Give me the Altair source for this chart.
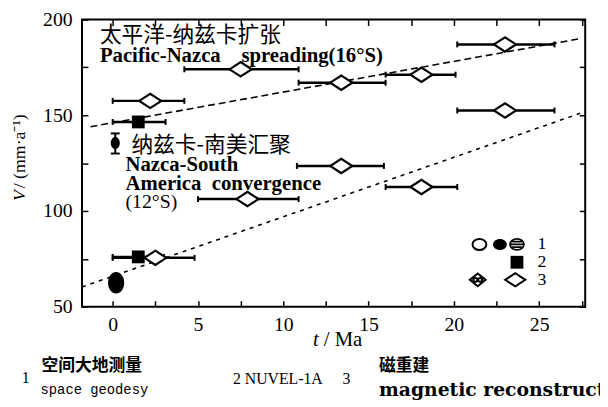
import altair as alt
import pandas as pd

# ---------------- data ----------------
# 3: magnetic reconstruction (open diamonds with horizontal age ranges)
mr_t    = [2.2, 7.5, 13.4, 18.1, 23.0, 23.0, 18.1, 13.4, 7.9, 2.5]
mr_v    = [157.5, 174.0, 167.0, 171.2, 187.0, 152.5, 112.5, 123.5, 106.2, 75.5]
mr_tmin = [0.0, 4.2, 10.9, 16.0, 20.2, 20.2, 16.0, 10.8, 5.0, 0.0]
mr_tmax = [4.2, 10.9, 16.0, 20.1, 25.9, 25.9, 20.2, 15.9, 10.9, 4.8]

# 2: NUVEL-1A (filled squares)
nv_t    = [1.5, 1.5]
nv_v    = [146.5, 76.0]
nv_tmin = [0.0, 0.0]
nv_tmax = [3.1, 3.0]

# 1: space geodesy (filled circles)
sg_t = [0.15, 0.2]
sg_v = [135.5, 62.5]
sg_err_t    = [0.15]
sg_err_vmin = [130.0]
sg_err_vmax = [140.5]

# dashed trend lines
pn_line_t = [-1.3, 27.4]
pn_line_v = [144.0, 190.0]
ns_line_t = [-1.8, 27.4]
ns_line_v = [60.3, 151.0]

# in-plot key
key1_t = [21.5, 22.7, 23.7]
key_v  = [82.5, 73.2, 64.0]
key3_t = [21.4, 23.6]
key_lab_t = [24.9, 24.9, 24.9]
key_labels = ["1", "2", "3"]

x_ticks = [0, 2.5, 5, 7.5, 10, 12.5, 15, 17.5, 20, 22.5, 25, 27.5]
y_ticks = [50, 75, 100, 125, 150, 175, 200]

# ---------------- tables ----------------
mr = pd.DataFrame({"t": mr_t, "v": mr_v, "tmin": mr_tmin, "tmax": mr_tmax})
nv = pd.DataFrame({"t": nv_t, "v": nv_v, "tmin": nv_tmin, "tmax": nv_tmax})
sg = pd.DataFrame({"t": sg_t, "v": sg_v})
sge = pd.DataFrame({"t": sg_err_t, "vmin": sg_err_vmin, "vmax": sg_err_vmax})
pn = pd.DataFrame({"t": pn_line_t, "v": pn_line_v})
ns = pd.DataFrame({"t": ns_line_t, "v": ns_line_v})
k_open = pd.DataFrame({"t": [key1_t[0]], "v": [key_v[0]]})
k_fill = pd.DataFrame({"t": [key1_t[1]], "v": [key_v[0]]})
k_hat = pd.DataFrame({"t": [key1_t[2]], "v": [key_v[0]]})
k_sq = pd.DataFrame({"t": [key1_t[2]], "v": [key_v[1]]})
k_hd = pd.DataFrame({"t": [key3_t[0]], "v": [key_v[2]]})
k_d = pd.DataFrame({"t": [key3_t[1]], "v": [key_v[2]]})
k_lab = pd.DataFrame({"t": key_lab_t, "v": key_v, "label": key_labels})

XS = alt.Scale(domain=[-1.8, 27.7], nice=False, zero=False)
YS = alt.Scale(domain=[50, 200], nice=False, zero=False)

SERIF = "Liberation Serif"
CJK = "Noto Sans CJK SC"

DIAMOND = "M-1,0L0,-0.65L1,0L0,0.65Z"
ELLIPSE = "M-1,0A1,0.8 0 1,0 1,0A1,0.8 0 1,0 -1,0Z"
TALL_ELLIPSE = "M0,-1A0.75,1 0 1,0 0,1A0.75,1 0 1,0 0,-1Z"
HATCH_CIRCLE = ("M-1,0A1,0.8 0 1,0 1,0A1,0.8 0 1,0 -1,0Z "
                "M-0.7,-0.4L0.7,-0.4M-0.9,0L0.9,0M-0.7,0.4L0.7,0.4")
HATCH_DIAMOND = ("M-1,0L0,-0.8L1,0L0,0.8Z "
                 "M-0.55,0A0.25,0.25 0 1,0 -0.05,0A0.25,0.25 0 1,0 -0.55,0Z "
                 "M0.05,0A0.25,0.25 0 1,0 0.55,0A0.25,0.25 0 1,0 0.05,0Z")


def xq(field="t", **kw):
    return alt.X(f"{field}:Q", scale=XS, axis=None, title=None, **kw)


def yq(field="v", **kw):
    return alt.Y(f"{field}:Q", scale=YS, axis=None, title=None, **kw)


tick_style = dict(tickSize=6, tickWidth=1.5, tickColor="black", domain=False,
                  grid=False, offset=-6, labelFont=SERIF, labelFontSize=20,
                  labelColor="black")

# axes carrier (bottom / left)
axes_bl = alt.Chart(mr).mark_point(opacity=0).encode(
    x=alt.X("t:Q", scale=XS, title=None,
            axis=alt.Axis(orient="bottom", values=x_ticks, labelPadding=8,
                          labelExpr="datum.value % 5 == 0 ? datum.label : ''",
                          **tick_style)),
    y=alt.Y("v:Q", scale=YS, title=None,
            axis=alt.Axis(orient="left", values=y_ticks, labelPadding=10,
                          labelExpr="datum.value % 50 == 0 ? datum.label : ''",
                          **tick_style)),
)

# top / right ticks (dashed line layer carries them)
pn_line = alt.Chart(pn).mark_line(color="black", strokeWidth=1.6, strokeDash=[7, 4]).encode(
    x=alt.X("t:Q", scale=XS, title=None,
            axis=alt.Axis(orient="top", values=x_ticks, labels=False, **tick_style)),
    y=alt.Y("v:Q", scale=YS, title=None,
            axis=alt.Axis(orient="right", values=y_ticks, labels=False, **tick_style)),
)
ns_line = alt.Chart(ns).mark_line(color="black", strokeWidth=1.6, strokeDash=[4, 5]).encode(
    x=xq(), y=yq())

# horizontal error bars
mr_bar = alt.Chart(mr).mark_rule(color="black", strokeWidth=2.5).encode(
    x=xq("tmin"), x2="tmax:Q", y=yq())
mr_caps = alt.Chart(mr).transform_fold(["tmin", "tmax"], as_=["end", "tt"]).mark_tick(
    orient="vertical", color="black", size=6, thickness=2, opacity=1).encode(
    x=xq("tt"), y=yq())
nv_bar = alt.Chart(nv).mark_rule(color="black", strokeWidth=2.5).encode(
    x=xq("tmin"), x2="tmax:Q", y=yq())
nv_caps = alt.Chart(nv).transform_fold(["tmin", "tmax"], as_=["end", "tt"]).mark_tick(
    orient="vertical", color="black", size=6, thickness=2, opacity=1).encode(
    x=xq("tt"), y=yq())

# vertical error bar of space geodesy point
sg_bar = alt.Chart(sge).mark_rule(color="black", strokeWidth=2).encode(
    x=xq(), y=yq("vmin"), y2="vmax:Q")
sg_caps = alt.Chart(sge).transform_fold(["vmin", "vmax"], as_=["end", "vv"]).mark_tick(
    orient="horizontal", color="black", size=9, thickness=2, opacity=1).encode(
    x=xq(), y=yq("vv"))

# symbols
mr_pts = alt.Chart(mr).mark_point(shape=DIAMOND, size=500, filled=True, fill="white",
                                  stroke="black", strokeWidth=2.2, opacity=1).encode(x=xq(), y=yq())
nv_pts = alt.Chart(nv).mark_point(shape="square", size=169, filled=True, color="black",
                                  opacity=1).encode(x=xq(), y=yq())
sg_pts = alt.Chart(sg).mark_point(shape=TALL_ELLIPSE, filled=True, color="black", opacity=1).encode(
    x=xq(), y=yq(),
    size=alt.condition("datum.v > 100", alt.value(150), alt.value(480)))

# key symbols
k1 = alt.Chart(k_open).mark_point(shape=ELLIPSE, size=196, filled=True, fill="white",
                                  stroke="black", strokeWidth=2, opacity=1).encode(x=xq(), y=yq())
k2 = alt.Chart(k_fill).mark_point(shape=ELLIPSE, size=196, filled=True, color="black",
                                  opacity=1).encode(x=xq(), y=yq())
k3 = alt.Chart(k_hat).mark_point(shape=HATCH_CIRCLE, size=196, filled=False, color="black",
                                 strokeWidth=1.8, opacity=1).encode(x=xq(), y=yq())
k4 = alt.Chart(k_sq).mark_point(shape="square", size=169, filled=True, color="black",
                                opacity=1).encode(x=xq(), y=yq())
k5 = alt.Chart(k_hd).mark_point(shape=HATCH_DIAMOND, size=256, filled=False, color="black",
                                strokeWidth=2, opacity=1).encode(x=xq(), y=yq())
k6 = alt.Chart(k_d).mark_point(shape=DIAMOND, size=420, filled=True, fill="white",
                               stroke="black", strokeWidth=2, opacity=1).encode(x=xq(), y=yq())
k_text = alt.Chart(k_lab).mark_text(font=SERIF, fontSize=18, align="left", baseline="middle",
                                    color="black").encode(x=xq(), y=yq(), text="label:N")


# in-plot annotations (data coordinates)
def note(t, v, label, **style):
    d = pd.DataFrame({"t": [t], "v": [v], "label": [label]})
    return alt.Chart(d).mark_text(align="left", baseline="middle", color="black", **style).encode(
        x=xq(), y=yq(), text="label:N")


notes = [
    note(-0.75, 191.7, "太平洋-纳兹卡扩张", font=CJK, fontSize=22),
    note(-0.75, 180.9, "Pacific-Nazca\u00a0\u00a0\u00a0\u00a0spreading(16°S)", font=SERIF,
         fontSize=21, fontWeight="bold"),
    note(1.1, 134.5, "纳兹卡-南美汇聚", font=CJK, fontSize=22),
    note(0.75, 123.8, "Nazca-South", font=SERIF, fontSize=21, fontWeight="bold"),
    note(0.75, 114.3, "America\u00a0\u00a0convergence", font=SERIF, fontSize=21, fontWeight="bold"),
    note(0.75, 104.8, "(12°S)", font=SERIF, fontSize=20),
]


# axis titles and caption (pixel positions relative to the plot area)
def ptext(px, py, label, **style):
    d = pd.DataFrame({"label": [label]})
    return alt.Chart(d).mark_text(color="black", **style).encode(
        x=alt.value(px), y=alt.value(py), text="label:N")


labels = [
    ptext(-63, 184, "V", font=SERIF, fontSize=18, fontStyle="italic", angle=270,
          align="left", baseline="middle"),
    ptext(-63, 171, "/ (mm·a⁻¹)", font=SERIF, fontSize=18, angle=270,
          align="left", baseline="middle"),
    ptext(234, 325, "t", font=SERIF, fontSize=21, fontStyle="italic",
          align="left", baseline="middle"),
    ptext(245, 325, "/ Ma", font=SERIF, fontSize=21, align="left", baseline="middle"),
    ptext(-61, 363, "1", font=SERIF, fontSize=16, align="left", baseline="middle"),
    ptext(-41, 351, "空间大地测量", font=CJK, fontSize=17, fontWeight="bold",
          align="left", baseline="middle"),
    ptext(-42, 376, "space geodesy", font="Liberation Mono", fontSize=14,
          align="left", baseline="middle"),
    ptext(153, 364, "2  NUVEL-1A", font=SERIF, fontSize=16, align="left", baseline="middle"),
    ptext(264, 364, "3", font=SERIF, fontSize=16, align="left", baseline="middle"),
    ptext(301, 351, "磁重建", font=CJK, fontSize=17, fontWeight="bold",
          align="left", baseline="middle"),
    ptext(301, 376, "magnetic reconstruction", font="DejaVu Serif", fontSize=19,
          fontWeight="bold", align="left", baseline="middle"),
]

chart = alt.layer(
    axes_bl, pn_line, ns_line,
    mr_bar, mr_caps, nv_bar, nv_caps, sg_bar, sg_caps,
    mr_pts, nv_pts, sg_pts,
    k1, k2, k3, k4, k5, k6, k_text,
    *notes, *labels,
).resolve_axis(x="independent", y="independent").properties(
    width=510, height=291,
    autosize=alt.AutoSizeParams(type="none"),
    padding={"left": 75, "top": 9, "right": 15, "bottom": 99},
    background="white",
).configure_view(stroke="black", strokeWidth=2)

chart.save("out.html", embed_options={"renderer": "svg", "actions": False})
